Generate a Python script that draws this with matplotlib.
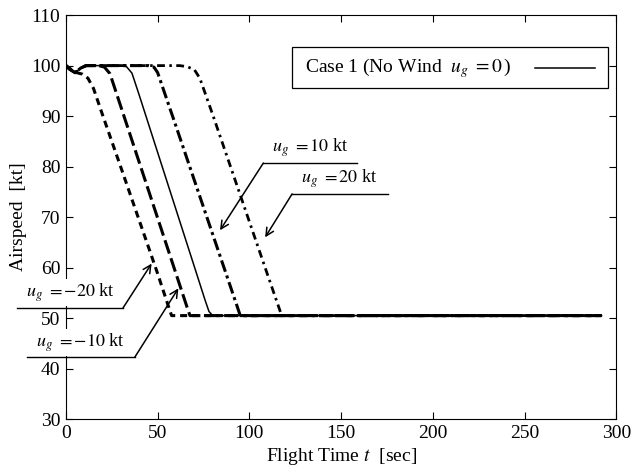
import matplotlib
matplotlib.use("Agg")
import matplotlib.pyplot as plt
from matplotlib.patches import Rectangle

plt.rcParams["font.family"] = ["Liberation Serif", "DejaVu Serif"]
plt.rcParams["mathtext.fontset"] = "stix"

# airspeed histories for each wind case (time in sec, airspeed in kt)
t_m20 = [0, 3, 6, 9, 12, 15, 20, 30, 40, 50, 56, 57.6, 292]
v_m20 = [100, 99.2, 98.6, 98.3, 97.5, 95.5, 90.2, 79.8, 69.3, 58.8, 52.2, 50.5, 50.5]

t_m10 = [0, 2, 5, 8, 11, 18, 21, 24, 30, 40, 50, 60, 66, 67.6, 292]
v_m10 = [100, 99.3, 98.6, 99.5, 100, 100, 99.7, 98.4, 91.8, 80.8, 69.8, 58.8, 52.2, 50.5, 50.5]

t_0 = [0, 2, 5, 8, 11, 30, 33, 36, 40, 50, 60, 70, 76, 78, 80, 292]
v_0 = [100, 99.3, 98.6, 99.5, 100, 100, 99.8, 98.5, 94.1, 82.8, 71.5, 60.2, 53.4, 51.3, 50.5, 50.5]

t_p10 = [0, 2, 5, 8, 11, 45, 48, 50, 60, 70, 80, 90, 93, 95, 292]
v_p10 = [100, 99.3, 98.6, 99.5, 100, 100, 99.7, 98.6, 88.0, 77.3, 66.6, 55.9, 52.7, 50.5, 50.5]

t_p20 = [0, 2, 5, 8, 11, 62, 66, 70, 73, 80, 90, 100, 110, 116, 117.6, 292]
v_p20 = [100, 99.3, 98.6, 99.5, 100, 100, 99.8, 99.2, 97.5, 90.3, 79.7, 69.1, 58.5, 52.2, 50.5, 50.5]

fig = plt.figure(figsize=(6.34, 4.72), dpi=100)
ax = fig.add_axes([0.104, 0.112, 0.868, 0.856])

ax.plot(t_m20, v_m20, color="black", lw=2.2, dashes=(2.3, 1.6))
ax.plot(t_m10, v_m10, color="black", lw=2.2, dashes=(4.6, 1.6))
ax.plot(t_p10, v_p10, color="black", lw=2.2, dashes=(3.9, 1.3, 1.0, 1.3))
ax.plot(t_p20, v_p20, color="black", lw=2.0, dashes=(2.8, 1.6, 0.9, 1.6))
ax.plot(t_0, v_0, color="black", lw=1.1)

ax.set_xlim(0, 300)
ax.set_ylim(30, 110)
ax.set_xticks([0, 50, 100, 150, 200, 250, 300])
ax.set_yticks([30, 40, 50, 60, 70, 80, 90, 100, 110])
ax.tick_params(direction="in", top=True, right=True, labelsize=14, length=5, width=0.8, pad=4)
ax.set_xlabel(r"Flight Time $t$  [sec]", fontsize=14, labelpad=3)
ax.set_ylabel("Airspeed  [kt]", fontsize=14, labelpad=3)

# legend box for the no-wind case, drawn by hand so the sample line sits on the right
ax.add_patch(Rectangle((0.411, 0.819), 0.574, 0.102, transform=ax.transAxes,
                       facecolor="white", edgecolor="black", lw=0.9, zorder=8))
ax.text(0.435, 0.868, r"Case 1 (No Wind  $u_g\ = 0\,$)", transform=ax.transAxes,
        fontsize=14, ha="left", va="center", zorder=9)
ax.plot([0.853, 0.962], [0.869, 0.869], transform=ax.transAxes, color="black", lw=1.1, zorder=9)


def label_arrow(text, tx, ty, x0, x1, yl, tip, side):
    # text over a leader line, with an arrow running to the curve
    ax.text(tx, ty, text, fontsize=13, ha="center", va="center", zorder=6,
            bbox=dict(facecolor="white", edgecolor="none", pad=1.5), clip_on=False)
    ax.plot([x0, x1], [yl, yl], color="black", lw=1.0, clip_on=False, zorder=7)
    start = (x1, yl) if side == "right" else (x0, yl)
    ax.annotate("", xy=tip, xytext=start, zorder=7, annotation_clip=False,
                arrowprops=dict(arrowstyle="->", color="black", lw=1.1,
                                shrinkA=0, shrinkB=0, mutation_scale=14))


label_arrow(r"$u_g\ = 10$ kt", 133, 83.7, 107.6, 158.9, 80.7, (84, 67.4), "left")
label_arrow(r"$u_g\ = 20$ kt", 149, 77.7, 123.3, 175.7, 74.6, (108.6, 66.0), "left")
label_arrow(r"$u_g\ = -20$ kt", 2.2, 55.0, -26.7, 31.1, 52.0, (46.7, 60.8), "right")
label_arrow(r"$u_g\ = -10$ kt", 7.6, 45.2, -21.3, 37.6, 42.3, (61.3, 55.9), "right")

fig.savefig("out.png", dpi=100)
